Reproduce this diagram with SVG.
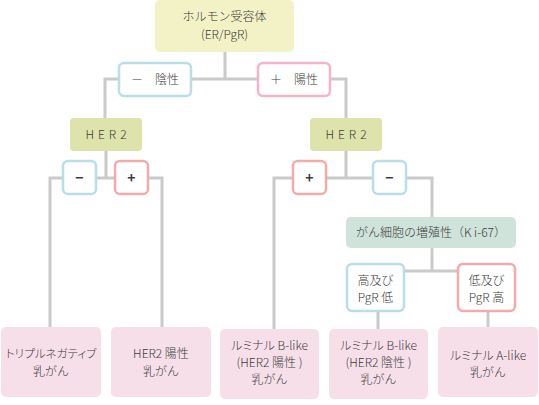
<svg xmlns="http://www.w3.org/2000/svg" width="539" height="405" viewBox="0 0 539 405">
<style>
text{font-family:"Noto Sans CJK JP","Noto Sans",sans-serif;font-size:12px;fill:#3a3a3a;text-anchor:middle;font-weight:300}
.pal{font-feature-settings:"palt"}
.ln{fill:none;stroke:#cacaca;stroke-width:3}
.top{fill:#f2f2c6}
.her{fill:#dde3aa}
.ki{fill:#cfe3da}
.res{fill:#f7dfea}
.neg{fill:#fff;stroke:#b8dfe6;stroke-width:2.5}
.pos{fill:#fff;stroke:#f5b4c8;stroke-width:2.5}
.pos2{fill:#fff;stroke:#f2abab;stroke-width:2.5}
.sym{font-size:14px;font-weight:700}
.sp{letter-spacing:4px}
</style>
<g id="connectors">
<path class="ln" d="M225 52V79M105 118V79H346V118"/>
<path class="ln" d="M106 151V178M50 327V178H162V327"/>
<path class="ln" d="M346 151V178M274 329V178H432V217"/>
<path class="ln" d="M432 248V271M380 271H480M378 311V329M488 311V327"/>
</g>
<g id="hormone"><rect class="top" x="155" y="0" width="139" height="52" rx="5"/><text x="224.5" y="21">ホルモン受容体</text><text x="224.5" y="39">(ER/PgR)</text></g>
<g id="er-neg"><rect class="neg" x="119" y="63" width="72" height="33" rx="5"/><text x="155" y="84">－　陰性</text></g>
<g id="er-pos"><rect class="pos" x="258" y="63" width="72" height="33" rx="5"/><text x="294" y="84">＋　陽性</text></g>
<g id="her2-left"><rect class="her" x="70" y="118" width="72" height="33" rx="4"/><text class="sp" x="108" y="139">HER2</text></g>
<g id="her2-right"><rect class="her" x="310" y="118" width="72" height="33" rx="4"/><text class="sp" x="348" y="139">HER2</text></g>
<g id="l-neg"><rect class="neg" x="63" y="161" width="33" height="33" rx="5"/><text class="sym" x="79.5" y="183">−</text></g>
<g id="l-pos"><rect class="pos2" x="115" y="161" width="33" height="33" rx="5"/><text class="sym" x="131.5" y="183">+</text></g>
<g id="r-pos"><rect class="pos2" x="293" y="161" width="33" height="33" rx="5"/><text class="sym" x="309.5" y="183">+</text></g>
<g id="r-neg"><rect class="neg" x="373" y="161" width="33" height="33" rx="5"/><text class="sym" x="389.5" y="183">−</text></g>
<g id="ki67"><rect class="ki" x="346" y="217" width="170" height="31" rx="5"/><text x="431" y="237">がん細胞の増殖性（K i-67）</text></g>
<g id="high"><rect class="neg" x="347" y="264" width="57" height="47" rx="5"/><text x="375.5" y="285">高及び</text><text x="375.5" y="302">PgR 低</text></g>
<g id="low"><rect class="pos2" x="458" y="264" width="57" height="47" rx="5"/><text x="486.5" y="285">低及び</text><text x="486.5" y="302">PgR 高</text></g>
<g id="triple"><rect class="res" x="1" y="327" width="100" height="70" rx="5"/><text class="pal" x="51" y="358" style="font-size:11.5px">トリプルネガティブ</text><text x="51" y="376">乳がん</text></g>
<g id="her2pos"><rect class="res" x="111" y="327" width="100" height="70" rx="5"/><text x="161" y="358">HER2 陽性</text><text x="161" y="376">乳がん</text></g>
<g id="lumb-pos"><rect class="res" x="220" y="329" width="99" height="70" rx="5"/><text class="pal" x="269.5" y="350">ルミナル B-like</text><text x="269.5" y="367">(HER2 陽性 )</text><text x="269.5" y="384">乳がん</text></g>
<g id="lumb-neg"><rect class="res" x="329" y="329" width="99" height="70" rx="5"/><text class="pal" x="378.5" y="350">ルミナル B-like</text><text x="378.5" y="367">(HER2 陰性 )</text><text x="378.5" y="384">乳がん</text></g>
<g id="luma"><rect class="res" x="438" y="327" width="100" height="70" rx="5"/><text class="pal" x="488" y="360">ルミナル A-like</text><text x="488" y="377">乳がん</text></g>
</svg>
